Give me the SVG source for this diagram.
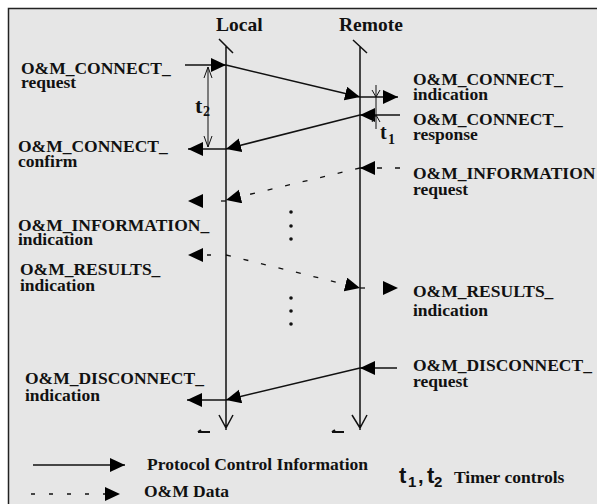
<svg xmlns="http://www.w3.org/2000/svg" width="597" height="504" viewBox="0 0 597 504">
<style>
.lbl{font-family:"Liberation Serif","Times New Roman",serif;font-weight:bold;font-size:17.5px;fill:#111}
.ttl{font-family:"Liberation Serif","Times New Roman",serif;font-weight:bold;font-size:19.5px;fill:#111}
.tm{font-family:"Liberation Serif","Times New Roman",serif;font-weight:bold;fill:#111}
.tl{font-family:"Liberation Sans",Arial,sans-serif;font-weight:bold;fill:#111}
.life{stroke:#111;stroke-width:1.5;fill:none}
.pci{stroke:#111;stroke-width:1.5;fill:none;marker-end:url(#ah)}
.dat{stroke:#111;stroke-width:1.3;fill:none;stroke-dasharray:5 13;marker-end:url(#ah)}
.thin{stroke:#111;stroke-width:1;fill:none}
</style>
<defs>
<marker id="ah" markerUnits="userSpaceOnUse" markerWidth="16" markerHeight="15" refX="15" refY="7" orient="auto" viewBox="0 0 16 15">
<path d="M0,0 L15,7 L0,14 z" fill="#000" stroke="none"/>
</marker>
</defs>
<rect x="0" y="0" width="597" height="504" fill="#ffffff"/>
<rect x="8.5" y="8.5" width="600" height="510" fill="#e6e6e6" stroke="#222" stroke-width="1.5"/>

<g id="local">
<text class="ttl" x="216" y="31">Local</text>
<path class="life" d="M219,39 L233,53 M226,46 V430 M219,415 L226,428 L233,415"/>
<path d="M198,432 H210 M198,432 L201,430" stroke="#111" stroke-width="2" fill="none"/>
</g>
<g id="remote">
<text class="ttl" x="339" y="31">Remote</text>
<path class="life" d="M353,40 L367,53 M360,46 V430 M352,415 L360,428 L367,415"/>
<path d="M332,432 H344 M332,432 L335,430" stroke="#111" stroke-width="2" fill="none"/>
</g>

<g id="connectors">
<path class="pci" d="M185,65 H226"/>
<path class="pci" d="M226,65 L360,97"/>
<path class="pci" d="M360,97 H398"/>
<path class="pci" d="M400,115 H360"/>
<path class="pci" d="M360,115 L226,149"/>
<path class="pci" d="M226,149 H188"/>
<path class="dat" d="M400,168 H360"/>
<path class="dat" d="M360,168 L226,200"/>
<path class="dat" style="stroke-dasharray:5 40" d="M226,201 H188"/>
<path class="dat" style="stroke-dasharray:0 15 4 40" d="M226,255 H188"/>
<path class="dat" d="M226,255 L360,288"/>
<path class="dat" style="stroke-dasharray:5 40" d="M360,288 H398"/>
<path class="pci" d="M397,368 H360"/>
<path class="pci" d="M360,368 L226,400"/>
<path class="pci" d="M226,400 H187"/>
</g>

<g id="timer-t2">
<path class="thin" d="M208,67 V147 M204,78 L208,67 L212,78 M204,136 L208,147 L212,136"/>
<text class="tm" x="195" y="113" font-size="22">t</text>
<text class="tm" x="203" y="116" font-size="14">2</text>
</g>
<g id="timer-t1">
<path class="thin" d="M376,85 V129 M372,90 L376,97 L380,90 M372,122 L376,115 L380,122"/>
<text class="tm" x="380" y="139" font-size="20">t</text>
<text class="tm" x="388" y="144" font-size="14">1</text>
</g>

<g id="dots">
<circle cx="291" cy="212" r="1.8" fill="#111"/>
<circle cx="291" cy="226" r="1.8" fill="#111"/>
<circle cx="291" cy="239" r="1.8" fill="#111"/>
<circle cx="291" cy="298" r="1.8" fill="#111"/>
<circle cx="291" cy="311" r="1.8" fill="#111"/>
<circle cx="291" cy="324" r="1.8" fill="#111"/>
</g>

<g id="connect-request"><text class="lbl" x="21" y="74">O&amp;M_CONNECT_</text><text class="lbl" x="21" y="88">request</text></g>
<g id="connect-confirm"><text class="lbl" x="18" y="152">O&amp;M_CONNECT_</text><text class="lbl" x="18" y="167">confirm</text></g>
<g id="information-indication"><text class="lbl" x="18" y="231">O&amp;M_INFORMATION_</text><text class="lbl" x="18" y="245">indication</text></g>
<g id="results-indication-left"><text class="lbl" x="20" y="275">O&amp;M_RESULTS_</text><text class="lbl" x="20" y="291">indication</text></g>
<g id="disconnect-indication"><text class="lbl" x="25" y="384">O&amp;M_DISCONNECT_</text><text class="lbl" x="25" y="401">indication</text></g>

<g id="connect-indication"><text class="lbl" x="413" y="85">O&amp;M_CONNECT_</text><text class="lbl" x="413" y="100">indication</text></g>
<g id="connect-response"><text class="lbl" x="413" y="125">O&amp;M_CONNECT_</text><text class="lbl" x="413" y="140">response</text></g>
<g id="information-request"><text class="lbl" x="413" y="179">O&amp;M_INFORMATION</text><text class="lbl" x="413" y="195">request</text></g>
<g id="results-indication-right"><text class="lbl" x="413" y="297">O&amp;M_RESULTS_</text><text class="lbl" x="413" y="316">indication</text></g>
<g id="disconnect-request"><text class="lbl" x="413" y="371">O&amp;M_DISCONNECT_</text><text class="lbl" x="413" y="387">request</text></g>

<g id="legend">
<path class="pci" d="M33,465 H125"/>
<text class="lbl" x="147" y="470">Protocol Control Information</text>
<path class="dat" style="stroke-dasharray:4 14" d="M31,494 H120"/>
<text class="lbl" x="144" y="497">O&amp;M Data</text>
<text class="tl" x="399" y="483" font-size="22">t</text>
<text class="tl" x="408" y="487" font-size="15">1</text>
<text class="tl" x="418" y="483" font-size="20">,</text>
<text class="tl" x="427" y="483" font-size="22">t</text>
<text class="tl" x="434" y="487" font-size="15">2</text>
<text class="lbl" x="454" y="483">Timer controls</text>
</g>
</svg>
